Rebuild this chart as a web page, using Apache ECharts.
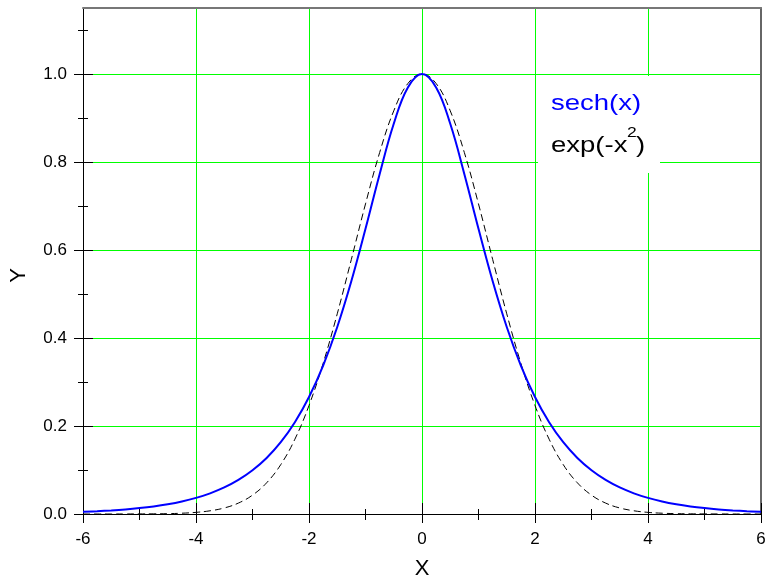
<!DOCTYPE html>
<html><head><meta charset="utf-8">
<script src="https://cdn.jsdelivr.net/npm/echarts@6/dist/echarts.min.js"></script>
<style>html,body{margin:0;padding:0;background:#fff}#c{width:768px;height:583px}</style>
</head><body><div id="c"></div>
<script>
const xValues = [-6,-5.75,-5.5,-5.25,-5,-4.75,-4.5,-4.25,-4,-3.75,-3.5,-3.25,-3,-2.75,-2.5,-2.25,-2,-1.75,-1.5,-1.25,-1,-0.75,-0.5,-0.25,0,0.25,0.5,0.75,1,1.25,1.5,1.75,2,2.25,2.5,2.75,3,3.25,3.5,3.75,4,4.25,4.5,4.75,5,5.25,5.5,5.75,6];
const sechValues = [0.0050,0.0064,0.0082,0.0105,0.0135,0.0173,0.0222,0.0285,0.0366,0.0470,0.0603,0.0774,0.0993,0.1273,0.1631,0.2085,0.2658,0.3374,0.4251,0.5295,0.6481,0.7724,0.8868,0.9695,1.0000,0.9695,0.8868,0.7724,0.6481,0.5295,0.4251,0.3374,0.2658,0.2085,0.1631,0.1273,0.0993,0.0774,0.0603,0.0470,0.0366,0.0285,0.0222,0.0173,0.0135,0.0105,0.0082,0.0064,0.0050];
const gaussValues = [0,0,0,0.0001,0.0002,0.0004,0.0008,0.0018,0.0037,0.0073,0.0137,0.0248,0.0429,0.0709,0.1122,0.1700,0.2466,0.3424,0.4550,0.5788,0.7047,0.8213,0.9162,0.9784,1.0000,0.9784,0.9162,0.8213,0.7047,0.5788,0.4550,0.3424,0.2466,0.1700,0.1122,0.0709,0.0429,0.0248,0.0137,0.0073,0.0037,0.0018,0.0008,0.0004,0.0002,0.0001,0,0,0];
const xTickLabels = [-6,-4,-2,0,2,4,6];
const yTickLabels = [0,0.2,0.4,0.6,0.8,1.0];
const xMinorTicks = [-5,-3,-1,1,3,5];
const yMinorTicks = [0.1,0.3,0.5,0.7,0.9,1.1];
const seriesNames = ['sech(x)','exp(-x2)'];

const FONT = '"Liberation Sans", Arial, sans-serif';
const xGridLines = xTickLabels.filter(v => v > -6 && v < 6);
const yGridLines = yTickLabels.filter(v => v > 0);
const hidden = {show:false};

function tickAxisX(values, offset, len){
  return {type:'value', min:-6, max:6, position:'bottom', offset:offset,
    axisLine:{show:false,onZero:false}, axisLabel:hidden, splitLine:hidden,
    axisTick:{show:true, customValues:values, length:len, lineStyle:{color:'#000',width:1}}};
}
function tickAxisY(values, offset, len){
  return {type:'value', min:0, max:1.15, position:'left', offset:offset,
    axisLine:{show:false,onZero:false}, axisLabel:hidden, splitLine:hidden,
    axisTick:{show:true, customValues:values, length:len, lineStyle:{color:'#000',width:1}}};
}

const chart = echarts.init(document.getElementById('c'), null, {renderer:'canvas'});
chart.setOption({
  animation:false,
  backgroundColor:'#fff',
  grid:{left:83, right:7, top:8, bottom:69, outerBoundsMode:'none'},
  xAxis:[
    {type:'value', min:-6, max:6, interval:2, position:'bottom',
     name:'X', nameLocation:'middle', nameGap:44,
     nameTextStyle:{fontFamily:FONT, fontSize:22, color:'#000'},
     axisLine:{onZero:false, lineStyle:{color:'#000', width:1}},
     axisTick:{show:false, customValues:xGridLines},
     axisLabel:{fontFamily:FONT, fontSize:17, color:'#000', margin:17},
     splitLine:{show:true, lineStyle:{color:'#00ff00', width:1}}},
    tickAxisX(xTickLabels, -11, 20),
    tickAxisX(xMinorTicks, -5, 11),
    {type:'value', min:-6, max:6, position:'top',
     axisLine:{show:true, onZero:false, lineStyle:{color:'#777', width:2}},
     axisTick:hidden, axisLabel:hidden, splitLine:hidden}
  ],
  yAxis:[
    {type:'value', min:0, max:1.15, interval:0.2, position:'left',
     name:'Y', nameLocation:'middle', nameGap:53,
     nameTextStyle:{fontFamily:FONT, fontSize:22, color:'#000', padding:[0,29,0,0]},
     axisLine:{show:true, onZero:false, lineStyle:{color:'#000', width:1}},
     axisTick:{show:false, customValues:yGridLines},
     axisLabel:{customValues:yTickLabels, fontFamily:FONT, fontSize:17, color:'#000', margin:16,
       formatter:v => Number(v).toFixed(1)},
     splitLine:{show:true, lineStyle:{color:'#00ff00', width:1}}},
    tickAxisY(yTickLabels, -10, 19),
    tickAxisY(yMinorTicks, -5, 10),
    {type:'value', min:0, max:1.15, position:'right',
     axisLine:{show:true, onZero:false, lineStyle:{color:'#666', width:2}},
     axisTick:hidden, axisLabel:hidden, splitLine:hidden}
  ],
  series:[
    {name:seriesNames[1], type:'line', xAxisIndex:0, yAxisIndex:0, showSymbol:false, smooth:0.4,
     data:xValues.map((x,i)=>[x,gaussValues[i]]),
     lineStyle:{color:'#000', width:1, type:[7,4]}, z:3},
    {name:seriesNames[0], type:'line', xAxisIndex:0, yAxisIndex:0, showSymbol:false, smooth:0.4,
     data:xValues.map((x,i)=>[x,sechValues[i]]),
     lineStyle:{color:'#0000ff', width:2}, z:4}
  ],
  graphic:[
    {type:'rect', left:538, top:76, z:100, shape:{width:122, height:97}, style:{fill:'#fff'}},
    {type:'text', x:551, y:103.5, scaleX:1.25, z:101,
     style:{text:seriesNames[0], fontFamily:FONT, fontSize:22, fill:'#0000ff', verticalAlign:'middle', align:'left'}},
    {type:'text', x:551, y:145.5, scaleX:1.25, z:101,
     style:{text:'exp(-x', fontFamily:FONT, fontSize:22, fill:'#000', verticalAlign:'middle', align:'left'}},
    {type:'text', x:627, y:133, scaleX:1.25, z:101,
     style:{text:'2', fontFamily:FONT, fontSize:14, fill:'#000', verticalAlign:'middle', align:'left'}},
    {type:'text', x:636, y:145.5, scaleX:1.25, z:101,
     style:{text:')', fontFamily:FONT, fontSize:22, fill:'#000', verticalAlign:'middle', align:'left'}}
  ]
});
</script>
</body></html>
